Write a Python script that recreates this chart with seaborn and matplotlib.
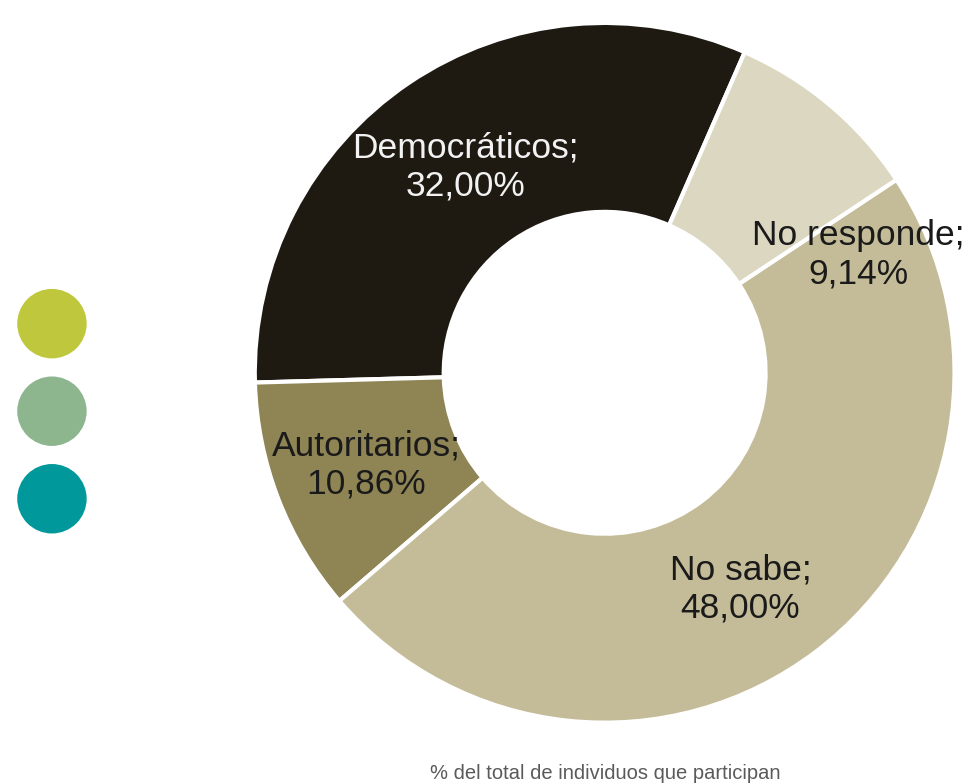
import numpy as np
import pandas as pd
import seaborn as sns
import matplotlib.pyplot as plt

sns.set_theme(style="white")
plt.rcParams["font.family"] = ["Liberation Sans", "DejaVu Sans"]

# donut data
categories = ["Democráticos", "Autoritarios", "No sabe", "No responde"]
values = [32.00, 10.86, 48.00, 9.14]
slice_colors = ["#1e1a12", "#8e8454", "#c4bc98", "#dcd7c1"]
text_colors = ["#f2f2f2", "#1a1a1a", "#1a1a1a", "#1a1a1a"]

# leftover legend dots on the left (no text)
dot_colors = ["#bfc83c", "#8db58e", "#00989a"]

footnote = "% del total de individuos que participan"

fig = plt.figure(figsize=(9.8, 7.84), dpi=100)

# main donut
ax = fig.add_axes([0.260, 0.078, 0.714, 0.893])
wedges, _ = ax.pie(
    values,
    colors=slice_colors,
    startangle=66.4,
    counterclock=True,
    radius=1.0,
    wedgeprops=dict(width=0.54, edgecolor="white", linewidth=3),
)
ax.set_xlim(-1, 1)
ax.set_ylim(-1, 1)
ax.set_aspect("equal")
ax.axis("off")

# label placement (layout only): angle nudge in degrees, radius fraction
nudge = [0, 0, -5, -25]
label_r = [0.71, 0.73, 0.73, 0.80]
for w, cat, v, col, dn, r in zip(wedges, categories, values, text_colors, nudge, label_r):
    ang = np.deg2rad((w.theta1 + w.theta2) / 2 + dn)
    txt = f"{cat};\n{v:.2f}%".replace(".", ",")
    ax.text(
        r * np.cos(ang),
        r * np.sin(ang),
        txt,
        ha="center",
        va="center",
        multialignment="center",
        fontsize=25.5,
        color=col,
    )

# dots column
dax = fig.add_axes([0.0, 0.308, 0.106, 0.335])
dots = pd.DataFrame({"x": [0] * len(dot_colors), "y": list(range(len(dot_colors))), "c": dot_colors})
sns.scatterplot(
    data=dots, x="x", y="y", hue="c", palette=dot_colors, s=2500,
    linewidth=0, legend=False, ax=dax,
)
dax.set_xlim(-1, 1)
dax.set_ylim(len(dot_colors) - 0.5, -0.5)
dax.axis("off")

fig.text(0.618, 0.014, footnote, ha="center", va="center", fontsize=14.5, color="#5a5a5a")

fig.savefig("out.png", dpi=100)
